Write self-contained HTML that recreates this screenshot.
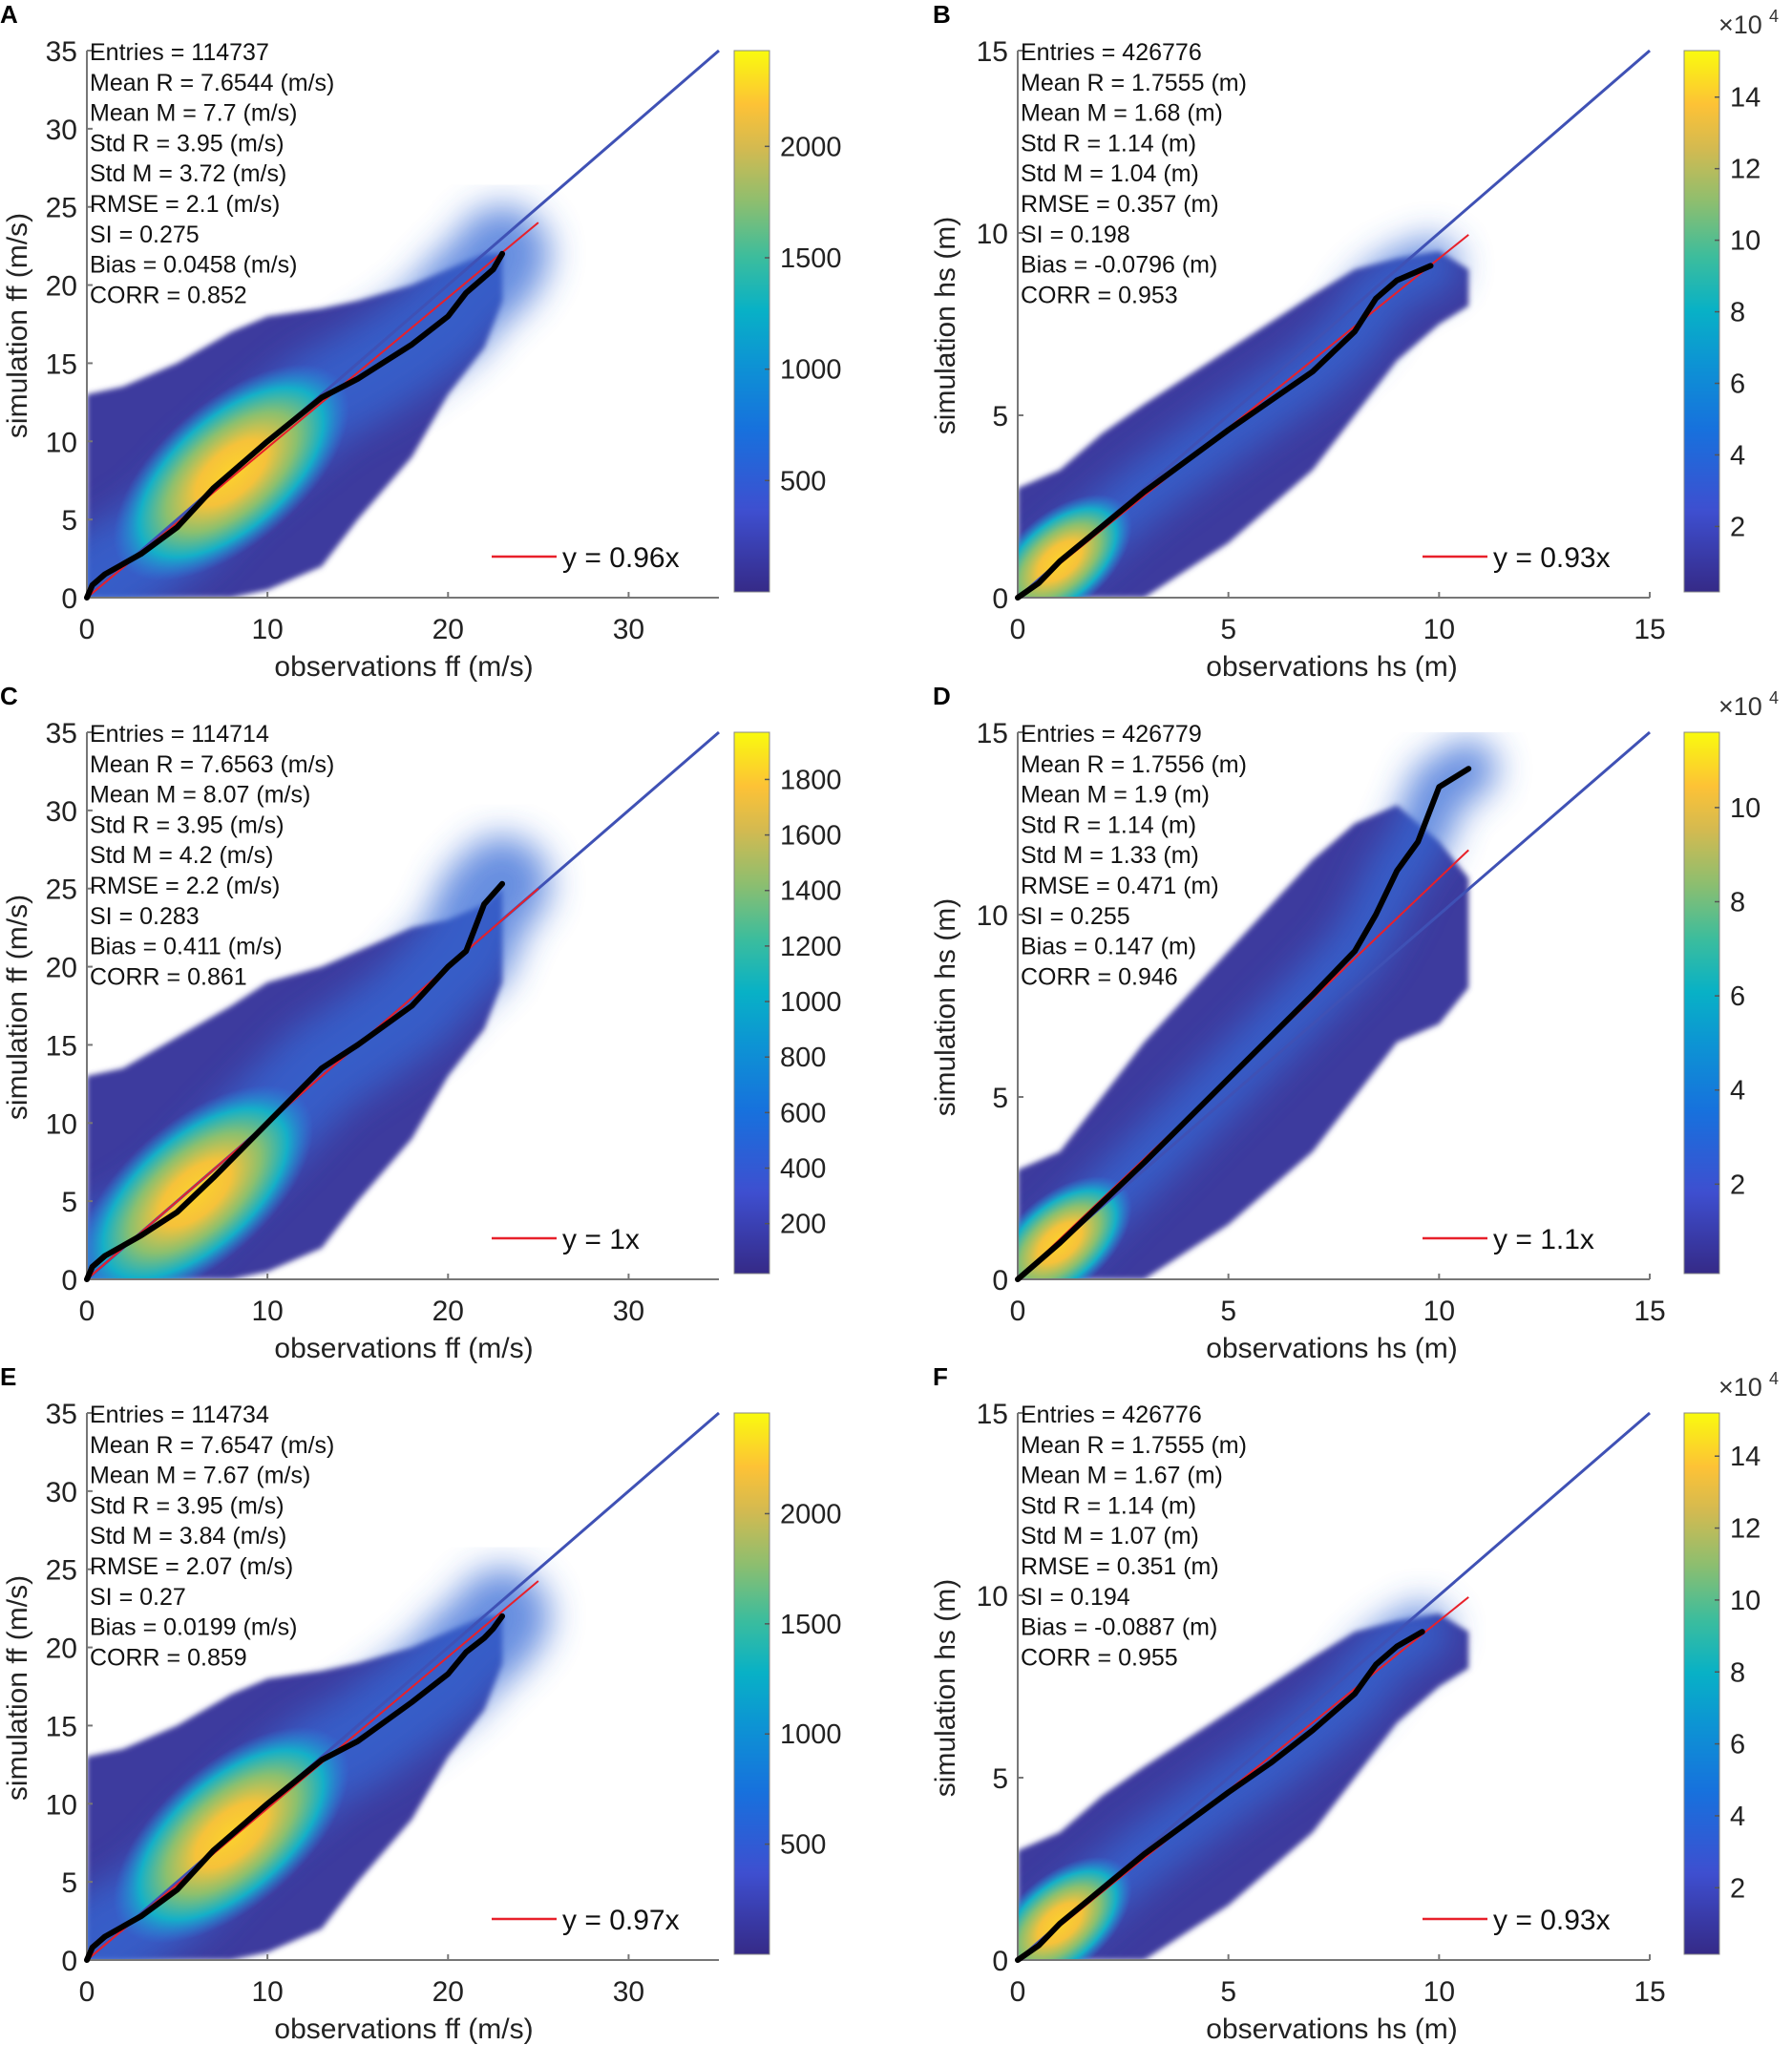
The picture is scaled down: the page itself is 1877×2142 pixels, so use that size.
<!DOCTYPE html>
<html><head><meta charset="utf-8"><style>
html,body{margin:0;padding:0;background:#fff;}
svg{display:block;font-family:"Liberation Sans","DejaVu Sans",sans-serif;}
</style></head><body>
<svg id="fig" width="1877" height="2142" viewBox="0 0 1877 2142" xmlns="http://www.w3.org/2000/svg">
<defs>
<linearGradient id="parula" x1="0" y1="1" x2="0" y2="0">
<stop offset="0" stop-color="#352a87"/><stop offset="0.15" stop-color="#3e4fd0"/><stop offset="0.3" stop-color="#1771dd"/>
<stop offset="0.42" stop-color="#0d93d4"/><stop offset="0.52" stop-color="#08b1c6"/><stop offset="0.62" stop-color="#3dbd9c"/>
<stop offset="0.72" stop-color="#8dbe6f"/><stop offset="0.82" stop-color="#d4ba50"/><stop offset="0.9" stop-color="#fdc236"/>
<stop offset="1" stop-color="#f9fb0e"/></linearGradient>
<radialGradient id="coreGrad"><stop offset="0" stop-color="#fcd22c"/><stop offset="0.3" stop-color="#f6c23a"/><stop offset="0.55" stop-color="#8cc06e"/><stop offset="0.78" stop-color="#14b0c8"/><stop offset="1" stop-color="#2b8ae0" stop-opacity="0"/></radialGradient>
<filter id="blur1" x="-20%" y="-20%" width="140%" height="140%"><feGaussianBlur stdDeviation="18"/></filter>
<filter id="blur2" x="-20%" y="-20%" width="140%" height="140%"><feGaussianBlur stdDeviation="3"/></filter>
</defs>
</svg>
<script>
// ---------- data ----------
const panelLetters = ['A','B','C','D','E','F'];
const xMaxes = [35,15,35,15,35,15];
const xTicksFF = [0,10,20,30];
const yTicksFF = [0,5,10,15,20,25,30,35];
const xTicksHS = [0,5,10,15];
const yTicksHS = [0,5,10,15];
const slopes = [0.96,0.93,1.0,1.1,0.97,0.93];
const fitEnds = [25,10.7,25,10.7,25,10.7];
const slopeLabels = ['y = 0.96x','y = 0.93x','y = 1x','y = 1.1x','y = 0.97x','y = 0.93x'];
const statsA = ['Entries = 114737','Mean R = 7.6544 (m/s)','Mean M = 7.7 (m/s)','Std R = 3.95 (m/s)','Std M = 3.72 (m/s)','RMSE = 2.1 (m/s)','SI = 0.275','Bias = 0.0458 (m/s)','CORR = 0.852'];
const statsB = ['Entries = 426776','Mean R = 1.7555 (m)','Mean M = 1.68 (m)','Std R = 1.14 (m)','Std M = 1.04 (m)','RMSE = 0.357 (m)','SI = 0.198','Bias = -0.0796 (m)','CORR = 0.953'];
const statsC = ['Entries = 114714','Mean R = 7.6563 (m/s)','Mean M = 8.07 (m/s)','Std R = 3.95 (m/s)','Std M = 4.2 (m/s)','RMSE = 2.2 (m/s)','SI = 0.283','Bias = 0.411 (m/s)','CORR = 0.861'];
const statsD = ['Entries = 426779','Mean R = 1.7556 (m)','Mean M = 1.9 (m)','Std R = 1.14 (m)','Std M = 1.33 (m)','RMSE = 0.471 (m)','SI = 0.255','Bias = 0.147 (m)','CORR = 0.946'];
const statsE = ['Entries = 114734','Mean R = 7.6547 (m/s)','Mean M = 7.67 (m/s)','Std R = 3.95 (m/s)','Std M = 3.84 (m/s)','RMSE = 2.07 (m/s)','SI = 0.27','Bias = 0.0199 (m/s)','CORR = 0.859'];
const statsF = ['Entries = 426776','Mean R = 1.7555 (m)','Mean M = 1.67 (m)','Std R = 1.14 (m)','Std M = 1.07 (m)','RMSE = 0.351 (m)','SI = 0.194','Bias = -0.0887 (m)','CORR = 0.955'];
// cloud envelopes (obs, sim low, sim high)
const envFFx = [0,2,5,8,10,13,15,18,20,22,23];
const envAhi = [13,13.5,15,17,18,18.5,19,20,21,22,22];
const envAlo = [0,0,0,0,0.5,2,5,9,13,16,19];
const envChi = [13,13.5,15.5,17.5,19,20,21,22.5,23,24,25];
const envClo = [0,0,0,0,0.5,2,5,9,13,16,19];
const envEhi = [13,13.5,15,17,18,18.5,19,20,21,22,22];
const envElo = [0,0,0,0,0.5,2,5,9,13,16,19];
const envHSx = [0,1,2,3,5,7,8,9,10,10.7];
const envBhi = [3,3.5,4.5,5.3,6.8,8.3,9,9.3,9.5,9];
const envBlo = [0,0,0,0,1.5,3.5,5,6.5,7.5,8];
const envDhi = [3,3.5,5,6.5,9,11.5,12.5,13,12,11];
const envDlo = [0,0,0,0,1.5,3.5,5,6.5,7,8];
const envFhi = [3,3.5,4.5,5.3,6.8,8.3,9,9.3,9.5,9];
const envFlo = [0,0,0,0,1.5,3.5,5,6.5,7.5,8];
// quantile curves
const curveAx = [0,0.3,1,3,5,7,10,13,15,18,20,21,22,22.5,23];
const curveAy = [0,0.8,1.5,2.8,4.5,7,10,12.8,14,16.2,18,19.5,20.5,21,22];
const curveBx = [0,0.5,1,3,5,6,7,8,8.5,9,9.8];
const curveBy = [0,0.4,1,2.9,4.6,5.4,6.2,7.3,8.2,8.7,9.1];
const curveCx = [0,0.3,1,3,5,7,10,13,15,18,20,21,21.5,22,23];
const curveCy = [0,0.8,1.5,2.8,4.3,6.5,10,13.5,15,17.5,20,21,22.5,24,25.3];
const curveDx = [0,1,3,5,7,8,8.5,9,9.5,10,10.7];
const curveDy = [0,1,3.2,5.5,7.8,9,10,11.2,12,13.5,14];
const curveEx = [0,0.3,1,3,5,7,10,13,15,18,20,21,22,22.5,23];
const curveEy = [0,0.8,1.5,2.8,4.5,7,10,12.8,14,16.5,18.3,19.7,20.6,21.2,22];
const curveFx = [0,0.5,1,3,5,6,7,8,8.5,9,9.6];
const curveFy = [0,0.4,1,2.9,4.6,5.4,6.3,7.3,8.1,8.6,9];
// dense cores (obs, sim)
const coreX = [8,1,6,1,8,1];
const coreY = [8,1,5.5,1,8,1];
// colorbars
const cbMins = [0,0.17,20,0.1,0,0.15];
const cbMaxs = [2430,15.3,1970,11.6,2457,15.2];
const cbTicksA = [500,1000,1500,2000];
const cbTicksB = [2,4,6,8,10,12,14];
const cbTicksC = [200,400,600,800,1000,1200,1400,1600,1800];
const cbTicksD = [2,4,6,8,10];
const cbTicksE = [500,1000,1500,2000];
const cbTicksF = [2,4,6,8,10,12,14];

const statsAll=[statsA,statsB,statsC,statsD,statsE,statsF];
const envHi=[envAhi,envBhi,envChi,envDhi,envEhi,envFhi];
const envLo=[envAlo,envBlo,envClo,envDlo,envElo,envFlo];
const curvesX=[curveAx,curveBx,curveCx,curveDx,curveEx,curveFx];
const curvesY=[curveAy,curveBy,curveCy,curveDy,curveEy,curveFy];
const cbTicksAll=[cbTicksA,cbTicksB,cbTicksC,cbTicksD,cbTicksE,cbTicksF];

const NS='http://www.w3.org/2000/svg';
const svg=document.getElementById('fig');
const defs=svg.querySelector('defs');
function mk(tag,attrs,parent){const e=document.createElementNS(NS,tag);for(const k in attrs)e.setAttribute(k,attrs[k]);(parent||svg).appendChild(e);return e;}

const rowY0=[626,1340,2053];
const colX0=[91,1066];
const plotW=662, plotH=573;
const cbX=[769,1764];

panelLetters.forEach((L,i)=>{
  const col=i%2,row=Math.floor(i/2);
  const ox=colX0[col], oy=rowY0[row];
  const xmax=xMaxes[i];
  const sx=v=>ox+v/xmax*plotW, sy=v=>oy-v/xmax*plotH;
  const isFF=col===0;
  const cp=mk('clipPath',{id:'clip'+L},defs);
  mk('rect',{x:ox,y:oy-plotH,width:plotW,height:plotH},cp);
  const g=mk('g',{});
  
  
  const pl=mk('text',{x:col?977:0,y:oy-602,'font-size':26,'font-weight':'bold'},g);
  pl.textContent=L;
  
  
  const cg=mk('g',{'clip-path':'url(#clip'+L+')'},g);
  // cloud
  const ex=isFF?envFFx:envHSx, hi=envHi[i], lo=envLo[i];
  let pts=ex.map((x,k)=>sx(x)+','+sy(hi[k]));
  for(let k=ex.length-1;k>=0;k--)pts.push(sx(ex[k])+','+sy(lo[k]));
  const cloud=mk('polygon',{points:pts.join(' '),fill:'#3c3a9e',filter:'url(#blur2)'},cg);
  
  
  const cx=curvesX[i], cy=curvesY[i];
  const band=mk('polyline',{points:cx.map((x,k)=>sx(x)+','+sy(cy[k])).join(' '),fill:'none',stroke:'#3469d6','stroke-width':isFF?100:60,'stroke-linecap':'round',opacity:0.75,filter:'url(#blur1)'},cg);
  
  
  const ang=Math.atan2(-plotH,plotW)*180/Math.PI;
  const ccx=sx(coreX[i]), ccy=sy(coreY[i]);
  const core=mk('ellipse',{cx:ccx,cy:ccy,rx:isFF?150:90,ry:isFF?75:50,fill:'url(#coreGrad)',transform:`rotate(${ang} ${ccx} ${ccy})`},cg);
  
  
  // axes
  const ax=mk('path',{d:`M${ox},${sy(xmax)}V${oy}H${sx(xmax)}`,fill:'none',stroke:'#777','stroke-width':2},g);
  
  
  const xt=isFF?xTicksFF:xTicksHS, yt=isFF?yTicksFF:yTicksHS;
  xt.forEach(v=>{
    mk('line',{x1:sx(v),x2:sx(v),y1:oy,y2:oy-6,stroke:'#777','stroke-width':2},g);
    const t=mk('text',{x:sx(v),y:oy+43,'font-size':30,'text-anchor':'middle',fill:'#222'},g);
    t.textContent=v;
    
    
  });
  yt.forEach(v=>{
    mk('line',{x1:ox,x2:ox+6,y1:sy(v),y2:sy(v),stroke:'#777','stroke-width':2},g);
    const t=mk('text',{x:ox-10,y:sy(v)+11,'font-size':30,'text-anchor':'end',fill:'#222'},g);
    t.textContent=v;
    
    
  });
  const ref=mk('line',{x1:sx(0),y1:sy(0),x2:sx(xmax),y2:sy(xmax),stroke:'#3f51b5','stroke-width':3},g);
  
  
  const fit=mk('line',{x1:sx(0),y1:sy(0),x2:sx(fitEnds[i]),y2:sy(fitEnds[i]*slopes[i]),stroke:'#e8202a','stroke-width':2},g);
  
  
  const qc=mk('polyline',{points:cx.map((x,k)=>sx(x)+','+sy(cy[k])).join(' '),fill:'none',stroke:'#000','stroke-width':6,'stroke-linejoin':'round','stroke-linecap':'round'},g);
  
  
  statsAll[i].forEach((s,k)=>{
    const t=mk('text',{x:ox+3,y:sy(xmax)+10+k*31.8,'font-size':25,fill:'#111'},g);
    t.textContent=s;
    
    
  });
  const lx=sx(xmax)-238, ly=oy-43;
  const ll=mk('line',{x1:lx,x2:lx+68,y1:ly,y2:ly,stroke:'#e8202a','stroke-width':2.5},g);
  
  
  const lt=mk('text',{x:lx+74,y:ly+11,'font-size':30,fill:'#111'},g);
  lt.textContent=slopeLabels[i];
  
  
  const xl=mk('text',{x:col?1395:423,y:oy+82,'font-size':30,'text-anchor':'middle',fill:'#222'},g);
  xl.textContent=isFF?'observations ff (m/s)':'observations hs (m)';
  
  
  const ylx=col?1000:28, yly=oy-285;
  const yl=mk('text',{x:ylx,y:yly,'font-size':30,'text-anchor':'middle',fill:'#222',transform:`rotate(-90 ${ylx} ${yly})`},g);
  yl.textContent=isFF?'simulation  ff (m/s)':'simulation  hs (m)';
  
  
  const cbx=cbX[col], cbTop=oy-plotH, cbBot=oy-6, cbw=37;
  const cb=mk('rect',{x:cbx,y:cbTop,width:cbw,height:cbBot-cbTop,fill:'url(#parula)',stroke:'#888','stroke-width':1},g);
  
  
  const cy2=v=>cbBot-(v-cbMins[i])/(cbMaxs[i]-cbMins[i])*(cbBot-cbTop);
  cbTicksAll[i].forEach(v=>{
    mk('line',{x1:cbx+cbw-5,x2:cbx+cbw,y1:cy2(v),y2:cy2(v),stroke:'#555','stroke-width':1.5},g);
    const t=mk('text',{x:cbx+cbw+11,y:cy2(v)+10,'font-size':29,fill:'#222'},g);
    t.textContent=v;
    
    
  });
  if(!isFF){
    const t=mk('text',{x:1800,y:cbTop-18,'font-size':27,fill:'#333'},g);
    t.textContent='\u00d710';
    
    
    const s=mk('text',{x:1853,y:cbTop-30,'font-size':18,fill:'#333'},g);
    s.textContent='4';
    
    
  }
});
</script>
</body></html>
